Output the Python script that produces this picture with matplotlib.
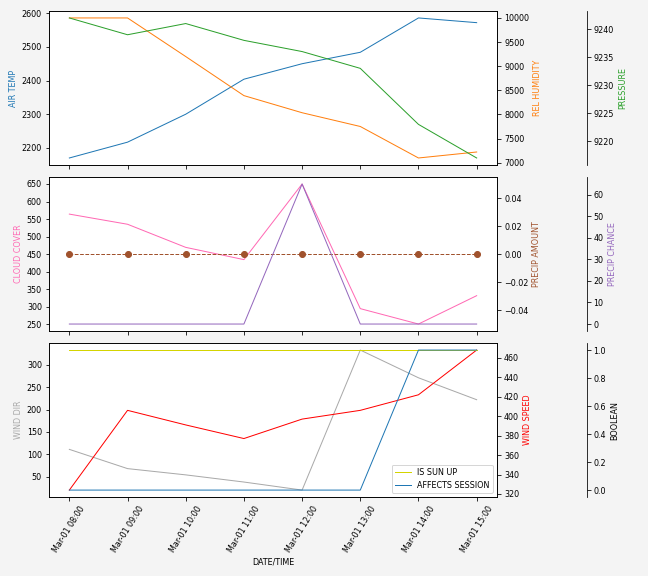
import matplotlib
matplotlib.use("Agg")
from matplotlib import pyplot as plt
import matplotlib.dates as mdates
import numpy as np
import datetime as dt

# hourly timestamps
times = [dt.datetime(2021, 3, 1, h) for h in range(8, 16)]

# panel 1
air_temp = [2170, 2217, 2300, 2404, 2450, 2484, 2586, 2572]
rel_humidity = [10000, 10000, 9200, 8390, 8035, 7750, 7097, 7221]
pressure = [9242, 9239, 9241, 9238, 9236, 9233, 9223, 9217]

# panel 2
cloud_cover = [564, 535, 469, 434, 650, 294, 250, 331]
precip_amount = [0, 0, 0, 0, 0, 0, 0, 0]
precip_chance = [0, 0, 0, 0, 65, 0, 0, 0]

# panel 3
wind_dir = [111, 68, 54, 38, 20, 333, 271, 222]
wind_speed = [324, 406, 391, 377, 397, 406, 422, 468]
is_sun_up = [1, 1, 1, 1, 1, 1, 1, 1]
affects_session = [0, 0, 0, 0, 0, 0, 1, 1]

plt.rcParams['font.size'] = 8
lw = 1.0

fig, axes = plt.subplots(3, 1, figsize=(9, 8), dpi=72, sharex=True)
fig.patch.set_facecolor('#f4f4f4')
fig.subplots_adjust(left=0.0756, right=0.767, top=0.981, bottom=0.137, hspace=0.078)


def make_twins(ax):
    ax_r = ax.twinx()
    ax_r2 = ax.twinx()
    ax_r2.spines['right'].set_position(('axes', 1.2))
    ax_r2.spines['top'].set_visible(False)
    ax_r2.spines['bottom'].set_visible(False)
    ax_r2.spines['left'].set_visible(False)
    return ax_r, ax_r2


# AIR TEMP / REL HUMIDITY / PRESSURE
ax1 = axes[0]
ax1b, ax1c = make_twins(ax1)
ax1.plot(times, air_temp, color='tab:blue', lw=lw)
ax1.set_ylabel('AIR TEMP', color='tab:blue')
ax1b.plot(times, rel_humidity, color='tab:orange', lw=lw)
ax1b.set_ylabel('REL HUMIDITY', color='tab:orange')
ax1c.plot(times, pressure, color='tab:green', lw=lw)
ax1c.set_ylabel('PRESSURE', color='tab:green')

# CLOUD COVER / PRECIP AMOUNT / PRECIP CHANCE
ax2 = axes[1]
ax2b, ax2c = make_twins(ax2)
ax2.plot(times, cloud_cover, color='hotpink', lw=lw)
ax2.set_ylabel('CLOUD COVER', color='hotpink')
ax2b.plot(times, precip_amount, color='sienna', lw=lw, ls='--', marker='o', markersize=6)
ax2b.set_ylabel('PRECIP AMOUNT', color='sienna')
ax2c.plot(times, precip_chance, color='tab:purple', lw=lw)
ax2c.set_ylabel('PRECIP CHANCE', color='tab:purple')

# WIND DIR / WIND SPEED / BOOLEAN
ax3 = axes[2]
ax3b, ax3c = make_twins(ax3)
ax3.plot(times, wind_dir, color='darkgray', lw=lw)
ax3.set_ylabel('WIND DIR', color='darkgray')
ax3b.plot(times, wind_speed, color='red', lw=lw)
ax3b.set_ylabel('WIND SPEED', color='red')
ax3c.plot(times, is_sun_up, color='#d4d400', lw=lw, label='IS SUN UP')
ax3c.plot(times, affects_session, color='tab:blue', lw=lw, label='AFFECTS SESSION')
ax3c.set_ylabel('BOOLEAN', color='black')
ax3c.legend(loc='lower right')

ax3.xaxis.set_major_locator(mdates.HourLocator())
ax3.xaxis.set_major_formatter(mdates.DateFormatter('%b-%d %H:%M'))
for lbl in ax3.get_xticklabels():
    lbl.set_rotation(58)
    lbl.set_ha('center')
ax3.set_xlabel('DATE/TIME')

plt.savefig('out.png', dpi=72, facecolor=fig.get_facecolor())
